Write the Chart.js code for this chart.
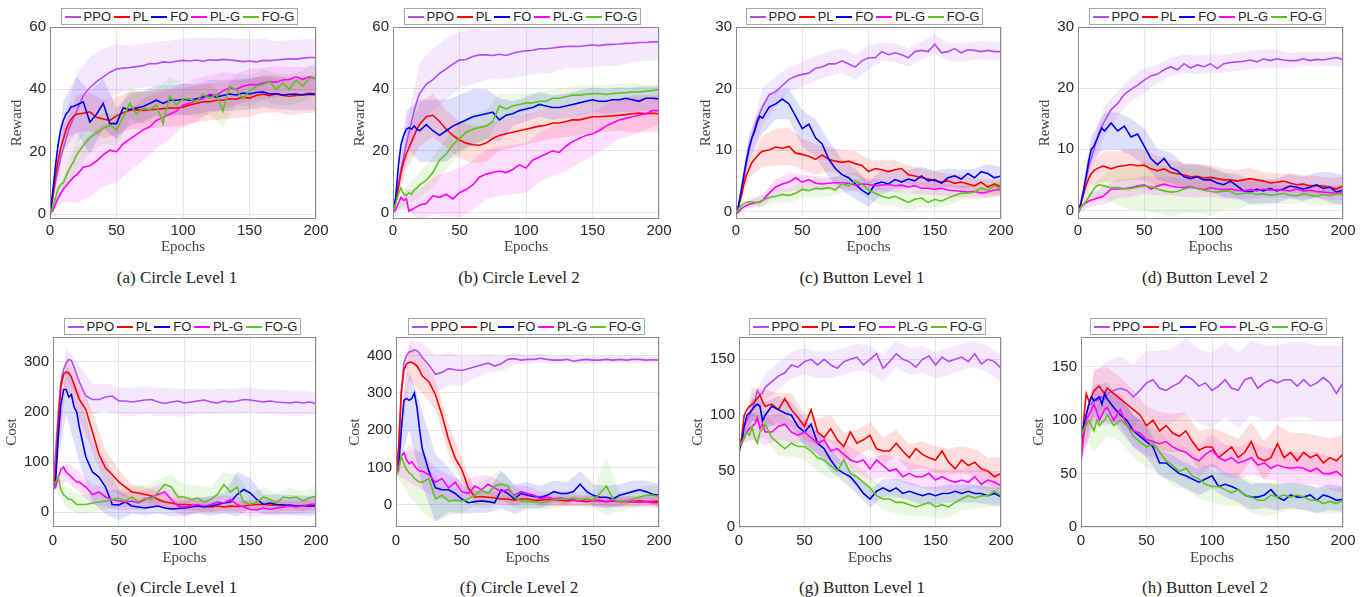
<!DOCTYPE html>
<html>
<head>
<meta charset="utf-8">
<script src="https://cdn.jsdelivr.net/npm/chart.js@4"></script>
<style>
    body { margin: 0; background: #fff; width: 1365px; height: 597px; position: relative; overflow: hidden; font-family: "Liberation Sans", Arial, sans-serif; }
    canvas { position: absolute; }
    .legend { position: absolute; height: 17px; width: 237px; border: 1px solid #a8a8a8; background: #fff; box-sizing: border-box;
              display: flex; align-items: center; justify-content: space-evenly; font-size: 13px; color: #262626; white-space: nowrap; }
    .legend .ln { display: inline-block; width: 16px; height: 2px; margin-right: 3px; vertical-align: middle; }
    .legend .it { display: inline-flex; align-items: center; }
    .caption { position: absolute; font-family: "Liberation Serif", "Times New Roman", serif; font-size: 17px; line-height: 20px;
               color: #222; transform: translateX(-50%); white-space: nowrap; }
</style>
</head>
<body>
<script>
// x grid shared by every curve (denser at the start where curves move fast)
const epochs = [0, 2, 4, 6, 8, 10, 12, 14, 16, 18, 20, 25, 30, 35, 40, 45, 50, 55, 60, 65, 70, 75, 80, 85, 90, 95, 100,
    105, 110, 115, 120, 125, 130, 135, 140, 145, 150, 155, 160, 165, 170, 175, 180, 185, 190, 195, 200];
// epochs where the shaded band half-width is read
const bandEpochs = [0, 10, 20, 30, 40, 50, 60, 70, 80, 90, 100, 110, 120, 130, 140, 150, 160, 170, 180, 190, 200];

const seriesNames = ['PPO', 'PL', 'FO', 'PL-G', 'FO-G'];
const seriesColors = ['#B44BF5', '#FF0000', '#0000F0', '#FF00FF', '#5DC41E'];

const xTicks = [0, 50, 100, 150, 200];
const rewardTicks60 = [0, 20, 40, 60];
const rewardTicks30 = [0, 10, 20, 30];
const costTicksE = [0, 100, 200, 300];
const costTicksF = [0, 100, 200, 300, 400];
const costTicksButton = [0, 50, 100, 150];

// (a) Circle Level 1 - reward
const aPPO = [0, 5, 10, 14, 18, 21, 24, 27, 29, 31, 33, 38, 40.5, 42.5, 44, 45.5, 46.5, 46.8, 47, 47.3, 47.6, 48.3, 48.2, 48.8, 48.6, 49, 49.3, 49.1, 49.4, 49, 49.5, 49.3, 49.6, 49.4, 49.2, 48.9, 49.1, 48.8, 49.3, 49.2, 49.4, 49.6, 49.8, 49.7, 50, 50.2, 50.2];
const aPL = [0, 5, 12, 17, 21, 24, 27, 29, 30.5, 31.5, 32, 32.3, 32.8, 31, 30.5, 30, 31.5, 32.5, 33.3, 33.5, 33.2, 33.5, 33.6, 33.8, 34, 34, 34.3, 35, 35.5, 36, 36, 36.5, 36.5, 37, 36.8, 37.5, 37.2, 38, 38.5, 38, 38.6, 38, 37.8, 38, 38.3, 38.7, 38.6];
const aFO = [0, 7, 15, 22, 27, 30, 32, 33, 34.5, 34.5, 35, 36, 29.5, 32, 35.5, 29, 29, 34, 33.5, 34, 34.5, 35.5, 36.5, 35.5, 36.5, 36.5, 36.8, 36.5, 37, 37.5, 38, 37.5, 38, 38.5, 38.2, 38.8, 38.5, 39, 39.2, 38.5, 38.6, 38.2, 38.4, 38.5, 38.2, 38.4, 38.3];
const aPLG = [0, 1, 3, 5, 6.5, 8, 9, 10, 11, 12, 12.5, 15, 15.5, 17, 19, 20.5, 20, 22.5, 24, 25.5, 27, 28, 30, 31, 32, 33, 35, 35.5, 36.5, 37, 38.5, 38, 39.5, 40.5, 40, 41, 41.5, 41.5, 42, 42.5, 42.3, 43, 43.2, 44, 43.2, 44, 43.5];
const aFOG = [0, 2, 5, 8, 9.5, 10, 12, 14, 15.5, 17, 19, 22, 24.5, 26, 27.5, 28.5, 27, 31, 35.5, 32, 34, 33.5, 35, 29, 38, 35, 37, 37, 36, 38.5, 37, 38.5, 33, 41, 40, 37, 39.5, 41, 41.5, 42.5, 40, 42, 40, 43, 41, 43.5, 43.8];
const aPPOsd = [0, 8, 12, 10, 9, 8, 7, 7, 7, 7, 7, 7, 7, 7, 7, 7, 7, 6, 6, 6, 6];
const aPLsd = [0, 4, 6, 6, 6, 6, 6, 6, 6, 6, 6, 6, 6, 6, 6, 6, 6, 6, 6, 6, 6];
const aFOsd = [0, 6, 9, 10, 8, 5, 5, 5, 5, 5, 5, 5, 5, 5, 5, 5, 5, 5, 5, 5, 5];
const aPLGsd = [0, 4, 9, 10, 10, 10, 10, 10, 9, 8, 7, 7, 6, 6, 5, 5, 5, 5, 4, 4, 4];
const aFOGsd = [0, 3, 5, 5, 5, 5, 5, 5, 5, 6, 5, 5, 5, 5, 5, 5, 5, 5, 5, 5, 5];

// (b) Circle Level 2 - reward
const bPPO = [0, 4, 9, 14, 18, 22, 26, 29.5, 33, 36, 38.5, 41.5, 43, 45, 46.5, 48, 49.3, 49.5, 50.5, 51, 51, 50.8, 51.2, 50.8, 51.5, 52, 52.3, 52.5, 53, 53, 53.2, 53.5, 53.7, 53.8, 53.7, 54, 54.2, 54, 54.3, 54.4, 54.5, 54.7, 54.8, 55, 55, 55.2, 55.2];
const bPL = [0, 3, 8, 13, 16.5, 19, 21, 23, 25, 27, 28.5, 31, 31.5, 29.5, 27, 25, 23.5, 22.5, 22, 21.8, 22.5, 24, 25, 25.5, 26, 26.5, 27, 27.5, 28, 28.3, 29, 29, 29.5, 30, 30, 30.5, 31, 31, 31.2, 31.3, 31.5, 31.7, 32, 32.2, 32, 32.2, 32];
const bFO = [0, 5, 15, 22, 25, 27, 27.5, 27, 28, 27, 26.5, 28.5, 26.5, 25, 26.5, 28, 29, 30, 31, 31.5, 32, 32.5, 30, 31.5, 32, 33, 33.5, 34, 35, 34.5, 34, 34, 34.5, 35, 35.5, 36, 36.5, 36, 36, 36.5, 36.5, 37, 36.5, 36, 37, 37, 36.8];
const bPLG = [0, 1, 3, 5, 4, 4.5, 0.5, 1, 1.5, 2, 2.5, 3, 5.5, 5, 6, 4.5, 6.5, 7.5, 9, 11.5, 12.5, 13, 13.5, 13, 14, 15.5, 14.5, 17, 18, 19, 20, 19.5, 21.5, 23, 24, 25, 25.5, 26.5, 28, 29, 30, 30.5, 31, 31.5, 32, 33, 33];
const bFOG = [0, 3, 6, 8, 6, 5.5, 6.5, 6, 7.5, 8, 9, 10.5, 13, 17, 19, 22, 24, 26, 27, 27.5, 28, 29.5, 34.5, 33.5, 34.5, 35, 35.5, 35.5, 36, 36, 37, 37, 37.5, 38, 38, 38.3, 38.5, 38.5, 38.2, 38.5, 38.7, 38.8, 39, 39, 39.3, 39.5, 39.8];
const bPPOsd = [0, 6, 10, 10, 10, 9, 9, 8, 8, 8, 8, 8, 8, 7, 7, 7, 7, 7, 6, 6, 6];
const bPLsd = [0, 5, 7, 7, 6, 6, 6, 6, 5, 5, 5, 5, 5, 5, 5, 5, 5, 5, 6, 6, 6];
const bFOsd = [0, 6, 10, 10, 10, 9, 9, 8, 7, 4, 4, 4, 4, 4, 4, 4, 4, 4, 4, 4, 4];
const bPLGsd = [0, 3, 5, 6, 7, 8, 8, 8, 8, 8, 8, 8, 8, 8, 8, 7, 7, 6, 6, 5, 5];
const bFOGsd = [0, 3, 4, 5, 5, 5, 5, 5, 4, 4, 3, 3, 3, 3, 3, 3, 3, 3, 3, 2, 2];

// (c) Button Level 1 - reward
const cPPO = [-0.5, 1, 3, 5.5, 8, 10, 12, 13.5, 15, 16, 17, 19, 19.5, 20.5, 21.5, 22, 22.3, 22.5, 23.3, 23.5, 24, 24, 24.5, 24, 23.5, 24.5, 25, 25, 26, 25.5, 25.8, 25.5, 25, 26, 26.2, 26, 27.2, 25.8, 26, 26.5, 25.8, 26.3, 26.2, 26, 26.2, 26, 26];
const cPL = [-0.5, 1, 2.5, 4.5, 6, 7, 8, 8.5, 9, 9.5, 9.8, 10, 10.5, 10.3, 10.6, 9.5, 9.3, 9, 8.5, 9.2, 8.5, 8.2, 8, 8.2, 7.8, 7.5, 6.5, 7, 6.8, 6.5, 6.8, 7, 6, 5.8, 5.5, 5.3, 5, 4.8, 5, 4.6, 4.8, 4.5, 4.2, 4.8, 4, 4.5, 4];
const cFO = [-0.5, 1, 3.5, 6, 8.5, 10.5, 12, 13, 14.5, 15.5, 15.2, 17, 17.5, 18.3, 17.5, 15.5, 13.5, 14.2, 12, 11, 8.5, 7, 6, 5.5, 4.5, 3.5, 2.8, 4.5, 4.8, 4.5, 5.2, 4.8, 5.3, 5, 5.8, 5, 5.2, 4.6, 5.5, 5.8, 5.3, 6.2, 5.5, 6.5, 6.2, 5.5, 5.8];
const cPLG = [-0.5, 0, 0.5, 0.8, 1, 1.2, 1.3, 1.4, 1.5, 1.6, 1.8, 3, 4, 4.5, 4.8, 5.5, 4.8, 5.2, 4.6, 4.5, 4.6, 4.7, 4.7, 4.6, 4.3, 4.5, 4.4, 4.2, 4.3, 4.4, 4.2, 4.3, 4, 4.2, 3.8, 3.8, 3.6, 3.8, 3.5, 3.4, 3.3, 3.2, 3.3, 3, 3.2, 3.5, 3.6];
const cFOG = [-0.5, 0.5, 1, 1.3, 1.5, 1.6, 1.6, 1.5, 1.5, 1.5, 1.8, 2.3, 2.5, 2.8, 2.6, 3, 3.6, 3.4, 3.8, 3.7, 3.9, 3.5, 4.5, 4.2, 5, 4.5, 3.5, 3, 2.5, 2.2, 2.5, 2, 1.5, 2, 2.2, 1.5, 2, 1.7, 2.2, 2.6, 3, 3, 3.2, 3.8, 3.5, 4.2, 3.6];
const cPPOsd = [0, 2, 3, 2.5, 2, 2, 2, 2, 2, 2, 2, 1.5, 1.5, 1.5, 1.5, 1.5, 1.5, 1.5, 1.5, 1.5, 1.5];
const cPLsd = [0, 1.5, 2.5, 3, 3, 2.5, 2.5, 2, 2, 2, 2, 1.5, 1.5, 1.5, 1.5, 1.5, 1.2, 1.2, 1.2, 1.2, 1.2];
const cFOsd = [0, 2, 2.5, 2.5, 2.5, 3, 3, 3, 2.5, 2.5, 2, 2, 1.5, 1.5, 1.5, 1.5, 1.5, 1.5, 1.5, 1.5, 1.5];
const cPLGsd = [0, 0.5, 1, 1.2, 1.5, 1.2, 1.2, 1, 1, 1, 1, 1, 1, 1, 1, 1, 1, 1, 1, 1, 1];
const cFOGsd = [0, 0.5, 1, 1.2, 1.2, 1.3, 1.5, 1.5, 1.5, 1.5, 1.5, 1.5, 1.5, 1.5, 1.5, 1.5, 1.2, 1.2, 1.2, 1.2, 1.2];

// (d) Button Level 2 - reward
const dPPO = [-0.5, 1, 3, 5, 7, 8.5, 10, 11.5, 12.8, 13.8, 14.6, 16.5, 17.5, 19, 19.8, 20.5, 21.3, 22, 22.3, 23, 23.5, 23, 24, 23.3, 23.8, 23.5, 24, 23.2, 24, 24.2, 24.3, 24.4, 24.6, 24.3, 24.8, 24.5, 24.8, 24.6, 24.5, 24.5, 24.8, 24.5, 24.7, 24.6, 24.8, 25, 24.7];
const dPL = [-0.5, 1, 2.5, 4, 5.2, 6, 6.5, 6.8, 7, 7.2, 7.2, 6.8, 7.2, 7.3, 7.5, 7.3, 7.4, 6.8, 6.5, 6.8, 6.2, 6, 5.8, 5.5, 5.6, 5.3, 5.4, 5.2, 5, 5, 4.8, 5, 5.2, 5, 4.8, 4.5, 4.6, 4.8, 4.5, 4.2, 4.3, 4, 4.1, 4, 3.8, 3.5, 4];
const dFO = [-0.5, 1, 3, 5.5, 8, 10, 10.5, 11.5, 12.5, 13.5, 13, 14.3, 13, 13.8, 12, 12.5, 10.5, 8.5, 7.5, 8.5, 7, 6.5, 5.5, 5.2, 5.5, 5, 5, 4.5, 4.2, 4.8, 4, 3.2, 3, 3.5, 3.2, 3.6, 3.2, 3.5, 4, 3.8, 3.5, 3.8, 4.2, 3.6, 3.8, 3, 3.3];
const dPLG = [-0.5, 0.5, 1, 1.3, 1.5, 1.7, 1.8, 2, 2.1, 2.2, 2.5, 3.5, 3.5, 3.6, 3.7, 4, 4.2, 3.5, 4, 4.3, 4, 3.8, 3.7, 3.9, 3.6, 3.4, 3.7, 3.5, 3.4, 3.5, 3.3, 3.2, 3.4, 3.2, 3.5, 3.3, 3.4, 3.3, 3.2, 3.5, 3.2, 3.3, 3.1, 3, 2.9, 2.8, 2.9];
const dFOG = [-0.5, 0.5, 1, 1.5, 2.2, 2.8, 3.5, 4, 4.2, 4.1, 4, 3.7, 3.8, 3.5, 3.6, 3.8, 4, 3.9, 3.5, 3.2, 3, 3.1, 3.5, 3.8, 3.6, 3.3, 3.1, 3, 3.2, 3.1, 2.6, 2.8, 2.9, 2.6, 2.7, 2.5, 2.6, 2.8, 2.5, 2.4, 2.7, 2.5, 2.3, 2.6, 2.4, 2.7, 2.6];
const dPPOsd = [0, 2, 2.5, 2, 2, 2, 1.5, 1.5, 1.5, 1.5, 1.5, 1.5, 1.5, 1.5, 1.5, 1.5, 1.2, 1.2, 1.2, 1.2, 1.2];
const dPLsd = [0, 2, 2.5, 2.5, 2.5, 2.5, 2.5, 2, 2, 2, 2, 1.8, 1.8, 1.8, 1.5, 1.5, 1.5, 1.5, 1.5, 1.5, 1.5];
const dFOsd = [0, 2, 3, 3, 3, 3, 2.5, 2.5, 2, 2, 2, 2, 2, 2, 2, 2, 2, 2, 2, 2.5, 2.5];
const dPLGsd = [0, 1, 1.5, 1.5, 1.5, 1.5, 1.5, 1.5, 1.5, 1.5, 1.5, 1.5, 1.5, 1.5, 1.5, 1.2, 1.2, 1.2, 1.2, 1.2, 1.2];
const dFOGsd = [0, 1, 2, 3, 3.5, 4, 4, 4, 4, 4, 4, 3, 2.5, 2, 2, 1.5, 1.5, 1.5, 1.5, 1.5, 1.5];

// (e) Circle Level 1 - cost
const ePPO = [50, 120, 200, 260, 285, 298, 305, 303, 290, 275, 260, 232, 225, 225, 230, 232, 222, 222, 220, 222, 224, 225, 220, 217, 220, 222, 218, 220, 222, 224, 220, 218, 222, 220, 222, 225, 224, 222, 220, 222, 220, 219, 218, 220, 218, 220, 217];
const ePL = [45, 80, 180, 250, 275, 280, 278, 270, 255, 240, 225, 205, 160, 115, 88, 75, 60, 50, 40, 38, 35, 32, 25, 20, 18, 15, 15, 14, 12, 12, 10, 12, 10, 12, 11, 12, 14, 15, 15, 14, 14, 13, 12, 12, 12, 13, 14];
const eFO = [50, 60, 150, 215, 245, 245, 230, 235, 210, 200, 170, 110, 80, 70, 50, 15, 14, 20, 12, 10, 8, 10, 12, 8, 6, 7, 8, 10, 12, 10, 12, 15, 18, 20, 35, 45, 38, 25, 15, 18, 15, 14, 14, 12, 13, 12, 12];
const ePLG = [45, 50, 70, 85, 90, 80, 75, 70, 65, 60, 60, 50, 35, 40, 30, 25, 22, 20, 22, 18, 25, 30, 35, 40, 25, 12, 10, 12, 15, 12, 15, 20, 18, 25, 15, 10, 5, 4, 8, 5, 8, 10, 12, 10, 12, 15, 16];
const eFOG = [55, 60, 70, 45, 35, 30, 25, 25, 20, 15, 15, 15, 18, 20, 22, 25, 28, 22, 30, 20, 28, 25, 40, 55, 50, 30, 30, 25, 28, 20, 25, 35, 55, 40, 50, 20, 15, 20, 30, 25, 18, 30, 28, 30, 22, 28, 32];
const ePPOsd = [0, 30, 35, 30, 28, 28, 28, 28, 28, 28, 28, 25, 25, 25, 25, 25, 25, 25, 25, 25, 22];
const ePLsd = [0, 30, 40, 40, 35, 25, 15, 15, 15, 12, 12, 12, 10, 10, 10, 10, 10, 10, 10, 10, 10];
const eFOsd = [0, 50, 70, 60, 55, 30, 15, 15, 15, 15, 15, 15, 20, 20, 45, 30, 20, 20, 20, 20, 20];
const ePLGsd = [0, 20, 20, 20, 20, 18, 18, 18, 20, 20, 20, 15, 15, 15, 15, 15, 15, 15, 15, 15, 15];
const eFOGsd = [0, 20, 20, 18, 18, 18, 20, 25, 25, 25, 25, 25, 25, 25, 25, 20, 20, 20, 20, 20, 20];

// (f) Circle Level 2 - cost
const fPPO = [80, 150, 300, 380, 400, 410, 412, 415, 413, 405, 395, 375, 350, 355, 365, 362, 360, 365, 370, 375, 380, 372, 378, 390, 392, 388, 390, 390, 393, 390, 388, 388, 390, 385, 388, 390, 388, 388, 390, 388, 390, 388, 390, 390, 388, 389, 388];
const fPL = [80, 150, 300, 360, 378, 382, 382, 378, 372, 360, 345, 330, 295, 240, 175, 125, 95, 45, 20, 22, 20, 18, 15, 15, 12, 15, 15, 12, 12, 14, 12, 12, 10, 12, 10, 8, 12, 10, 8, 10, 8, 8, 8, 10, 8, 8, 10];
const fFO = [80, 100, 200, 280, 285, 280, 285, 300, 260, 200, 150, 90, 45, 40, 40, 30, 15, 5, 8, 10, 8, 5, 40, 30, 15, 30, 25, 22, 20, 25, 35, 30, 30, 35, 55, 35, 25, 20, 20, 15, 25, 30, 35, 40, 35, 28, 25];
const fPLG = [80, 100, 130, 140, 120, 110, 115, 105, 95, 90, 90, 80, 60, 70, 45, 60, 35, 30, 50, 40, 55, 45, 35, 40, 25, 35, 30, 25, 15, 20, 15, 18, 15, 12, 10, 15, 10, 12, 8, 12, 8, 10, 8, 6, 8, 5, 5];
const fFOG = [80, 90, 130, 110, 95, 85, 80, 70, 65, 60, 60, 70, 15, 25, 10, 12, 10, 15, 25, 40, 30, 50, 55, 50, 20, 10, 8, 8, 5, 8, 12, 15, 15, 18, 15, 15, 12, 30, 50, 15, 8, 10, 15, 20, 25, 25, 22];
const fPPOsd = [0, 30, 40, 50, 45, 40, 30, 25, 20, 15, 12, 12, 10, 10, 10, 10, 10, 10, 10, 10, 8];
const fPLsd = [0, 50, 45, 40, 40, 30, 20, 15, 15, 15, 12, 12, 12, 12, 12, 12, 12, 12, 12, 12, 12];
const fFOsd = [0, 80, 100, 90, 60, 40, 30, 30, 50, 40, 35, 30, 30, 30, 35, 30, 30, 30, 30, 30, 30];
const fPLGsd = [0, 50, 50, 40, 35, 30, 25, 25, 25, 25, 20, 20, 20, 20, 15, 15, 15, 15, 15, 15, 15];
const fFOGsd = [0, 60, 80, 60, 40, 30, 30, 40, 40, 30, 20, 20, 20, 20, 20, 20, 80, 25, 25, 25, 30];

// (g) Button Level 1 - cost
const gPPO = [70, 80, 90, 95, 100, 105, 112, 122, 118, 120, 125, 130, 135, 138, 145, 143, 148, 150, 145, 150, 145, 142, 148, 150, 152, 145, 150, 155, 142, 148, 155, 150, 148, 143, 150, 153, 145, 152, 148, 150, 152, 148, 155, 146, 150, 148, 142];
const gPL = [65, 80, 100, 105, 108, 110, 112, 115, 118, 112, 108, 110, 105, 115, 105, 98, 90, 105, 85, 80, 88, 78, 72, 85, 75, 78, 82, 70, 68, 68, 75, 68, 62, 70, 65, 62, 60, 68, 58, 52, 60, 55, 58, 52, 50, 45, 48];
const gFO = [70, 75, 90, 100, 102, 105, 108, 110, 108, 95, 100, 108, 105, 102, 100, 90, 85, 92, 75, 70, 60, 52, 48, 45, 38, 30, 25, 32, 35, 32, 35, 30, 32, 30, 28, 30, 28, 30, 30, 32, 30, 32, 30, 30, 28, 30, 27];
const gPLG = [75, 75, 80, 85, 88, 90, 92, 98, 88, 92, 85, 85, 90, 92, 85, 82, 85, 80, 75, 78, 68, 70, 65, 60, 58, 60, 52, 60, 55, 50, 52, 45, 48, 45, 45, 48, 42, 45, 42, 40, 42, 40, 45, 38, 42, 40, 37];
const gFOG = [72, 75, 80, 85, 82, 90, 80, 75, 85, 88, 92, 80, 75, 70, 75, 72, 72, 68, 62, 60, 55, 50, 60, 48, 45, 40, 35, 28, 25, 25, 22, 22, 20, 18, 20, 22, 18, 20, 18, 22, 25, 28, 26, 28, 28, 32, 28];
const gPPOsd = [0, 10, 12, 12, 12, 12, 12, 12, 12, 12, 12, 12, 12, 12, 12, 12, 12, 12, 12, 12, 12];
const gPLsd = [0, 15, 15, 15, 15, 12, 12, 12, 12, 12, 12, 12, 12, 12, 12, 12, 12, 12, 12, 12, 15];
const gFOsd = [0, 10, 12, 12, 12, 12, 10, 10, 8, 8, 8, 8, 8, 8, 8, 8, 8, 8, 8, 8, 8];
const gPLGsd = [0, 12, 12, 12, 10, 10, 10, 10, 10, 10, 10, 10, 10, 10, 10, 10, 10, 10, 10, 10, 10];
const gFOGsd = [0, 12, 12, 12, 12, 12, 12, 12, 12, 10, 10, 10, 10, 10, 10, 10, 10, 10, 10, 10, 10];

// (h) Button Level 2 - cost
const hPPO = [65, 90, 105, 115, 115, 120, 118, 120, 122, 120, 125, 128, 130, 128, 122, 128, 135, 138, 130, 128, 132, 135, 142, 138, 132, 135, 128, 132, 138, 130, 128, 138, 140, 130, 135, 138, 135, 138, 138, 132, 138, 132, 135, 140, 135, 125, 135];
const hPL = [65, 100, 125, 118, 122, 128, 130, 132, 128, 125, 130, 125, 120, 115, 110, 105, 95, 100, 90, 95, 88, 85, 90, 80, 72, 75, 75, 65, 70, 75, 65, 70, 80, 65, 62, 65, 78, 65, 70, 62, 70, 65, 68, 60, 65, 62, 68];
const hFO = [85, 95, 105, 115, 122, 118, 120, 122, 115, 125, 120, 112, 105, 100, 90, 85, 80, 75, 60, 60, 55, 50, 48, 45, 42, 45, 48, 38, 40, 38, 35, 30, 28, 28, 30, 35, 28, 25, 30, 28, 28, 30, 25, 30, 28, 25, 26];
const hPLG = [60, 85, 100, 105, 110, 115, 108, 100, 105, 110, 112, 100, 110, 95, 90, 88, 82, 80, 78, 80, 75, 72, 70, 65, 62, 68, 72, 65, 62, 65, 60, 62, 65, 58, 60, 55, 58, 56, 55, 56, 55, 52, 55, 50, 50, 52, 47];
const hFOG = [85, 92, 95, 100, 95, 90, 100, 95, 98, 100, 105, 95, 100, 95, 85, 80, 75, 78, 70, 62, 58, 52, 55, 48, 45, 40, 38, 38, 35, 32, 35, 30, 28, 25, 25, 30, 28, 30, 28, 30, 28, 25, 25, 22, 24, 22, 25];
const hPPOsd = [0, 25, 30, 30, 30, 30, 35, 35, 35, 35, 35, 35, 35, 35, 35, 35, 35, 35, 35, 35, 35];
const hPLsd = [0, 20, 20, 20, 18, 18, 18, 18, 18, 18, 18, 18, 18, 18, 18, 18, 18, 18, 18, 18, 18];
const hFOsd = [0, 15, 15, 15, 15, 15, 12, 12, 12, 12, 12, 12, 12, 12, 12, 12, 12, 12, 12, 12, 12];
const hPLGsd = [0, 15, 15, 15, 15, 15, 15, 15, 15, 15, 15, 15, 15, 15, 15, 15, 15, 15, 15, 15, 15];
const hFOGsd = [0, 20, 20, 20, 20, 20, 20, 20, 20, 18, 15, 15, 15, 15, 15, 15, 12, 12, 12, 12, 12];

// panel layout: where each axes box sits in the 1365x597 page
const panels = [
    { caption: '(a) Circle Level 1', yTitle: 'Reward', yMin: -1.6, yMax: 60, yTicks: rewardTicks60,
      means: [aPPO, aPL, aFO, aPLG, aFOG], sds: [aPPOsd, aPLsd, aFOsd, aPLGsd, aFOGsd],
      row: 0, plotLeft: 50, plotRight: 316, titleGap: 33, legendX: 61, captionX: 177 },
    { caption: '(b) Circle Level 2', yTitle: 'Reward', yMin: -2, yMax: 60, yTicks: rewardTicks60,
      means: [bPPO, bPL, bFO, bPLG, bFOG], sds: [bPPOsd, bPLsd, bFOsd, bPLGsd, bFOGsd],
      row: 0, plotLeft: 393, plotRight: 659, titleGap: 33, legendX: 404, captionX: 519 },
    { caption: '(c) Button Level 1', yTitle: 'Reward', yMin: -1.2, yMax: 30, yTicks: rewardTicks30,
      means: [cPPO, cPL, cFO, cPLG, cFOG], sds: [cPPOsd, cPLsd, cFOsd, cPLGsd, cFOGsd],
      row: 0, plotLeft: 736, plotRight: 1001, titleGap: 30, legendX: 746, captionX: 862 },
    { caption: '(d) Button Level 2', yTitle: 'Reward', yMin: -1.4, yMax: 30, yTicks: rewardTicks30,
      means: [dPPO, dPL, dFO, dPLG, dFOG], sds: [dPPOsd, dPLsd, dFOsd, dPLGsd, dFOGsd],
      row: 0, plotLeft: 1078, plotRight: 1343, titleGap: 33, legendX: 1089, captionX: 1205 },
    { caption: '(e) Circle Level 1', yTitle: 'Cost', yMin: -30, yMax: 350, yTicks: costTicksE,
      means: [ePPO, ePL, eFO, ePLG, eFOG], sds: [ePPOsd, ePLsd, eFOsd, ePLGsd, eFOGsd],
      row: 1, plotLeft: 53, plotRight: 316, titleGap: 41, legendX: 64, captionX: 177 },
    { caption: '(f) Circle Level 2', yTitle: 'Cost', yMin: -60, yMax: 450, yTicks: costTicksF,
      means: [fPPO, fPL, fFO, fPLG, fFOG], sds: [fPPOsd, fPLsd, fFOsd, fPLGsd, fFOGsd],
      row: 1, plotLeft: 396, plotRight: 659, titleGap: 41, legendX: 408, captionX: 519 },
    { caption: '(g) Button Level 1', yTitle: 'Cost', yMin: 0, yMax: 170, yTicks: costTicksButton,
      means: [gPPO, gPL, gFO, gPLG, gFOG], sds: [gPPOsd, gPLsd, gFOsd, gPLGsd, gFOGsd],
      row: 1, plotLeft: 739, plotRight: 1001, titleGap: 41, legendX: 749, captionX: 862 },
    { caption: '(h) Button Level 2', yTitle: 'Cost', yMin: 0, yMax: 178, yTicks: costTicksButton,
      means: [hPPO, hPL, hFO, hPLG, hFOG], sds: [hPPOsd, hPLsd, hFOsd, hPLGsd, hFOGsd],
      row: 1, plotLeft: 1081, plotRight: 1343, titleGap: 42, legendX: 1090, captionX: 1205 }
];

// row geometry: canvas top, plot top padding, plot height, x-axis block height
const rows = [
    { top: 0, padTop: 27, areaH: 192, axisH: 37, tickPad: 3, legendTop: 8, captionTop: 268 },
    { top: 310, padTop: 27, areaH: 190, axisH: 40, tickPad: 5, legendTop: 318, captionTop: 578 }
];

const sansFont = '"Liberation Sans", Arial, sans-serif';
const serifFont = '"Liberation Serif", "Times New Roman", serif';

function hexToRgba(hex, a) {
    const n = parseInt(hex.slice(1), 16);
    return `rgba(${(n >> 16) & 255}, ${(n >> 8) & 255}, ${n & 255}, ${a})`;
}

// MATLAB-style box around the axes
const axesBox = {
    id: 'axesBox',
    afterDatasetsDraw(chart) {
        const { ctx, chartArea: c } = chart;
        ctx.save();
        ctx.strokeStyle = '#8a8a8a';
        ctx.lineWidth = 1;
        ctx.strokeRect(Math.round(c.left) + 0.5, Math.round(c.top) + 0.5,
            Math.round(c.right - c.left) - 1, Math.round(c.bottom - c.top) - 1);
        ctx.restore();
    }
};

function buildDatasets(p) {
    const datasets = [];
    p.means.forEach((m, i) => {
        const col = seriesColors[i];
        const sd = p.sds[i];
        const upper = bandEpochs.map((e, k) => ({ x: e, y: m[epochs.indexOf(e)] + sd[k] }));
        const lower = bandEpochs.map((e, k) => ({ x: e, y: m[epochs.indexOf(e)] - sd[k] }));
        datasets.push({ label: seriesNames[i] + ' band', data: upper, borderWidth: 0, borderColor: 'rgba(0,0,0,0)',
            backgroundColor: hexToRgba(col, 0.13), pointRadius: 0, fill: '+1', order: 20 });
        datasets.push({ label: seriesNames[i] + ' low', data: lower, borderWidth: 0, borderColor: 'rgba(0,0,0,0)',
            pointRadius: 0, fill: false, order: 20 });
        datasets.push({ label: seriesNames[i], data: epochs.map((e, k) => ({ x: e, y: m[k] })),
            borderColor: col, borderWidth: 1.6, pointRadius: 0, fill: false, order: 10 - i });
    });
    return datasets;
}

function drawPanel(p) {
    const r = rows[p.row];
    const yAxisW = p.titleGap + 9;
    const w = yAxisW + (p.plotRight - p.plotLeft) + 20;
    const h = r.padTop + r.areaH + r.axisH;

    const canvas = document.createElement('canvas');
    canvas.width = w;
    canvas.height = h;
    canvas.style.left = (p.plotLeft - yAxisW) + 'px';
    canvas.style.top = r.top + 'px';
    canvas.style.width = w + 'px';
    canvas.style.height = h + 'px';
    document.body.appendChild(canvas);

    new Chart(canvas, {
        type: 'line',
        data: { datasets: buildDatasets(p) },
        options: {
            responsive: false,
            animation: false,
            devicePixelRatio: 1,
            events: [],
            layout: { padding: { top: r.padTop, right: 20, left: 0, bottom: 0 } },
            plugins: { legend: { display: false }, tooltip: { enabled: false } },
            elements: { line: { tension: 0 } },
            scales: {
                x: {
                    type: 'linear', min: 0, max: 200,
                    afterBuildTicks: s => { s.ticks = xTicks.map(v => ({ value: v })); },
                    afterFit: s => { s.height = r.axisH; },
                    grid: { color: '#e6e6e6', drawTicks: false },
                    border: { display: false },
                    ticks: { padding: r.tickPad, color: '#262626', maxRotation: 0, font: { family: sansFont, size: 15 } },
                    title: { display: true, text: 'Epochs', color: '#444', padding: 0, font: { family: serifFont, size: 15 } }
                },
                y: {
                    type: 'linear', min: p.yMin, max: p.yMax,
                    afterBuildTicks: s => { s.ticks = p.yTicks.map(v => ({ value: v })); },
                    afterFit: s => { s.width = yAxisW; },
                    grid: { color: '#e6e6e6', drawTicks: false },
                    border: { display: false },
                    ticks: { padding: 4, color: '#262626', font: { family: sansFont, size: 15 } },
                    title: { display: true, text: p.yTitle, color: '#444', padding: 0, font: { family: serifFont, size: 15 } }
                }
            }
        },
        plugins: [axesBox]
    });

    // legend box above the axes
    const lg = document.createElement('div');
    lg.className = 'legend';
    lg.style.left = p.legendX + 'px';
    lg.style.top = r.legendTop + 'px';
    lg.innerHTML = seriesNames.map((n, i) =>
        `<span class="it"><span class="ln" style="background:${seriesColors[i]}"></span>${n}</span>`).join('');
    document.body.appendChild(lg);

    const cap = document.createElement('div');
    cap.className = 'caption';
    cap.style.left = p.captionX + 'px';
    cap.style.top = r.captionTop + 'px';
    cap.textContent = p.caption;
    document.body.appendChild(cap);
}

panels.forEach(drawPanel);
</script>
</body>
</html>
